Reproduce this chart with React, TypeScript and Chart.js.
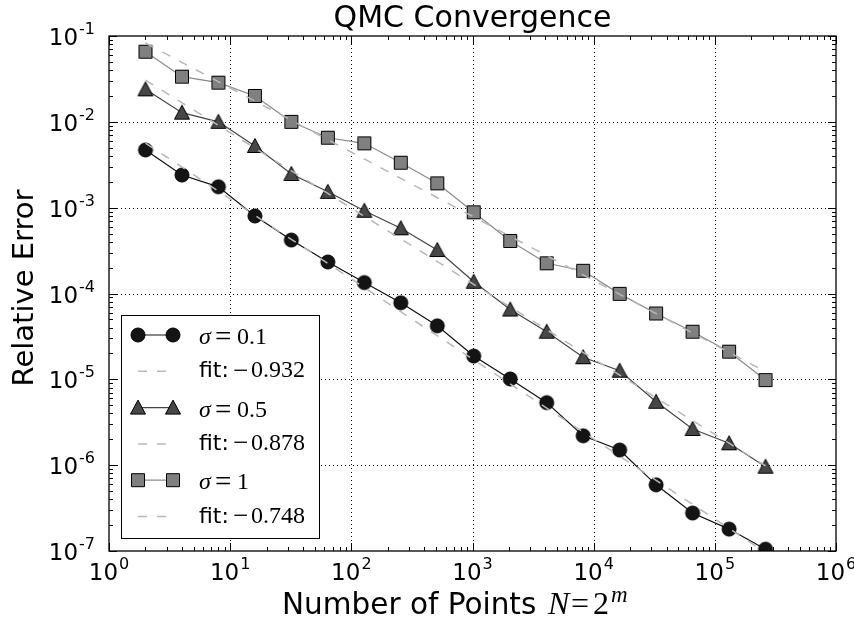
import React, { useEffect, useRef } from "react";
import { Chart, registerables } from "chart.js";

Chart.register(...registerables);

// ---- data ----
const pointsN = [2, 4, 8, 16, 32, 64, 128, 256, 512, 1024, 2048, 4096, 8192, 16384, 32768, 65536, 131072, 262144];
const errSigma01 = [4.7e-3, 2.4e-3, 1.75e-3, 8.0e-4, 4.2e-4, 2.33e-4, 1.34e-4, 7.8e-5, 4.2e-5, 1.87e-5, 1.01e-5, 5.35e-6, 2.2e-6, 1.5e-6, 5.9e-7, 2.77e-7, 1.8e-7, 1.05e-7];
const errSigma05 = [2.39e-2, 1.28e-2, 1.0e-2, 5.23e-3, 2.47e-3, 1.53e-3, 9.2e-4, 5.75e-4, 3.21e-4, 1.37e-4, 6.5e-5, 3.59e-5, 1.81e-5, 1.26e-5, 5.48e-6, 2.64e-6, 1.8e-6, 9.6e-7];
const errSigma1 = [6.56e-2, 3.36e-2, 2.86e-2, 2.0e-2, 1.0e-2, 6.53e-3, 5.62e-3, 3.34e-3, 1.92e-3, 8.83e-4, 4.09e-4, 2.25e-4, 1.84e-4, 9.9e-5, 5.85e-5, 3.59e-5, 2.1e-5, 9.8e-6];
const fitN = [2, 262144];
const fitSigma01 = [5.66e-3, 9.6e-8];
const fitSigma05 = [3.07e-2, 9.8e-7];
const fitSigma1 = [8.28e-2, 1.23e-5];
const xTickExponents = ["0", "1", "2", "3", "4", "5", "6"];
const yTickExponents = ["-1", "-2", "-3", "-4", "-5", "-6", "-7"];
const sigmaLabels = ["0.1", "0.5", "1"];
const fitSlopes = ["0.932", "0.878", "0.748"];
const chartTitle = "QMC Convergence";
const xAxisTitle = "Number of Points";
const yAxisTitle = "Relative Error";

const SANS = '"DejaVu Sans", sans-serif';
const SERIF = '"Liberation Serif", "DejaVu Serif", serif';

const markerKinds = ["circle", "triangle", "square"];
const lineColors = ["#111111", "#454545", "#8a8a8a"];
const fitColor = "#b8b8b8";

function drawMarker(g: CanvasRenderingContext2D, kind: string, x: number, y: number) {
  g.save();
  g.lineWidth = 1;
  g.strokeStyle = "#000";
  g.setLineDash([]);
  g.beginPath();
  if (kind === "circle") {
    g.arc(x, y, 7, 0, Math.PI * 2);
    g.fillStyle = "#141414";
  } else if (kind === "triangle") {
    g.moveTo(x, y - 7.5);
    g.lineTo(x + 7.5, y + 6.5);
    g.lineTo(x - 7.5, y + 6.5);
    g.closePath();
    g.fillStyle = "#474747";
  } else {
    g.rect(x - 6.5, y - 6.5, 13, 13);
    g.fillStyle = "#808080";
  }
  g.fill();
  g.stroke();
  g.restore();
}

function makeMarker(kind: string) {
  const c = document.createElement("canvas");
  c.width = 20;
  c.height = 20;
  const g = c.getContext("2d")!;
  drawMarker(g, kind, 10, 10);
  return c;
}

function drawPow(ctx: CanvasRenderingContext2D, base: string, sup: string, x: number, y: number, align: string) {
  const baseFont = `23px ${SANS}`;
  const supFont = `16px ${SANS}`;
  ctx.font = baseFont;
  const bw = ctx.measureText(base).width;
  ctx.font = supFont;
  const sw = ctx.measureText(sup).width;
  const total = bw + 1 + sw;
  const x0 = align === "center" ? x - total / 2 : x - total;
  ctx.textAlign = "left";
  ctx.textBaseline = "alphabetic";
  ctx.fillStyle = "#000";
  ctx.font = baseFont;
  ctx.fillText(base, x0, y);
  ctx.font = supFont;
  ctx.fillText(sup, x0 + bw + 1, y - 11);
}

const decorPlugin = {
  id: "decor",
  beforeDatasetsDraw(chart: any) {
    const ctx = chart.ctx as CanvasRenderingContext2D;
    const { left, right, top, bottom } = chart.chartArea;
    const xs = chart.scales.x;
    const ys = chart.scales.y;
    ctx.save();
    ctx.strokeStyle = "#000";
    ctx.lineWidth = 1;
    ctx.setLineDash([1, 3]);
    xTickExponents.forEach((e) => {
      const px = Math.round(xs.getPixelForValue(Math.pow(10, Number(e)))) + 0.5;
      if (px <= left + 1 || px >= right - 1) return;
      ctx.beginPath();
      ctx.moveTo(px, top);
      ctx.lineTo(px, bottom);
      ctx.stroke();
    });
    yTickExponents.forEach((e) => {
      const py = Math.round(ys.getPixelForValue(Math.pow(10, Number(e)))) + 0.5;
      if (py <= top + 1 || py >= bottom - 1) return;
      ctx.beginPath();
      ctx.moveTo(left, py);
      ctx.lineTo(right, py);
      ctx.stroke();
    });
    ctx.restore();
  },
  afterDatasetsDraw(chart: any) {
    const ctx = chart.ctx as CanvasRenderingContext2D;
    const { left, right, top, bottom } = chart.chartArea;
    const xs = chart.scales.x;
    const ys = chart.scales.y;
    ctx.save();
    ctx.setLineDash([]);
    ctx.strokeStyle = "#000";
    ctx.lineWidth = 1;
    // ticks (inward, all four sides)
    const xe = xTickExponents.map(Number);
    for (let k = xe[0]; k <= xe[xe.length - 1]; k++) {
      for (let j = 1; j <= 9; j++) {
        if (k === xe[xe.length - 1] && j > 1) break;
        const v = j * Math.pow(10, k);
        const px = Math.round(xs.getPixelForValue(v)) + 0.5;
        const len = j === 1 ? 8 : 4;
        ctx.beginPath();
        ctx.moveTo(px, bottom);
        ctx.lineTo(px, bottom - len);
        ctx.moveTo(px, top);
        ctx.lineTo(px, top + len);
        ctx.stroke();
      }
    }
    const ye = yTickExponents.map(Number);
    const yMin = Math.min(...ye);
    const yMax = Math.max(...ye);
    for (let k = yMin; k <= yMax; k++) {
      for (let j = 1; j <= 9; j++) {
        if (k === yMax && j > 1) break;
        const v = j * Math.pow(10, k);
        const py = Math.round(ys.getPixelForValue(v)) + 0.5;
        const len = j === 1 ? 8 : 4;
        ctx.beginPath();
        ctx.moveTo(left, py);
        ctx.lineTo(left + len, py);
        ctx.moveTo(right, py);
        ctx.lineTo(right - len, py);
        ctx.stroke();
      }
    }
    // frame
    ctx.lineWidth = 1.3;
    ctx.strokeRect(left, top, right - left, bottom - top);

    // legend
    const bx = 121.5, by = 315.5, bw = 198, bh = 223;
    ctx.fillStyle = "#fff";
    ctx.fillRect(bx, by, bw, bh);
    ctx.lineWidth = 1;
    ctx.strokeStyle = "#000";
    ctx.strokeRect(bx, by, bw, bh);
    const x1 = 138, x2 = 173, tx = 199;
    for (let i = 0; i < 3; i++) {
      const ry = 335 + i * 72.6;
      const fy = ry + 36.3;
      ctx.strokeStyle = lineColors[i];
      ctx.lineWidth = 1.2;
      ctx.beginPath();
      ctx.moveTo(x1, ry);
      ctx.lineTo(x2, ry);
      ctx.stroke();
      drawMarker(ctx, markerKinds[i], x1, ry);
      drawMarker(ctx, markerKinds[i], x2, ry);
      ctx.fillStyle = "#000";
      ctx.textAlign = "left";
      ctx.textBaseline = "alphabetic";
      ctx.font = `italic 24px ${SERIF}`;
      ctx.fillText("σ", tx, ry + 9);
      ctx.font = `29px ${SERIF}`;
      ctx.fillText("=", tx + 16, ry + 11);
      ctx.font = `24px ${SERIF}`;
      ctx.fillText(sigmaLabels[i], tx + 38, ry + 9);
      // fit row
      ctx.strokeStyle = fitColor;
      ctx.lineWidth = 1.5;
      ctx.setLineDash([9, 10]);
      ctx.beginPath();
      ctx.moveTo(x1, fy);
      ctx.lineTo(x2, fy);
      ctx.stroke();
      ctx.setLineDash([]);
      ctx.fillStyle = "#000";
      ctx.font = `22px ${SANS}`;
      ctx.fillText("fit:", tx, fy + 6);
      ctx.font = `27px ${SERIF}`;
      ctx.fillText("\u2212", tx + 34, fy + 7.5);
      ctx.font = `24px ${SERIF}`;
      ctx.fillText(fitSlopes[i], tx + 52, fy + 6);
    }

    // tick labels
    xTickExponents.forEach((e) => {
      const px = xs.getPixelForValue(Math.pow(10, Number(e)));
      drawPow(ctx, "10", e, px, 580, "center");
    });
    yTickExponents.forEach((e) => {
      const py = ys.getPixelForValue(Math.pow(10, Number(e)));
      drawPow(ctx, "10", e, 95, py + 9, "right");
    });

    // title
    ctx.fillStyle = "#000";
    ctx.textAlign = "center";
    ctx.font = `30px ${SANS}`;
    ctx.fillText(chartTitle, (left + right) / 2, 27);

    // x axis title
    ctx.textAlign = "left";
    const x0 = 282;
    const base = 614;
    ctx.font = `29.5px ${SANS}`;
    ctx.fillText(xAxisTitle, x0, base);
    ctx.font = `italic 32px ${SERIF}`;
    ctx.fillText("N", x0 + 266, base);
    ctx.font = `32px ${SERIF}`;
    ctx.fillText("=", x0 + 289, base);
    ctx.fillText("2", x0 + 311, base);
    ctx.font = `italic 23px ${SERIF}`;
    ctx.fillText("m", x0 + 329, base - 12);

    // y axis title
    ctx.save();
    ctx.translate(33, 288);
    ctx.rotate(-Math.PI / 2);
    ctx.textAlign = "center";
    ctx.font = `29px ${SANS}`;
    ctx.fillText(yAxisTitle, 0, 0);
    ctx.restore();

    ctx.restore();
  },
};

export default function App() {
  const ref = useRef<HTMLCanvasElement | null>(null);
  useEffect(() => {
    if (!ref.current) return;
    const markers = markerKinds.map(makeMarker);
    const mk = (xsArr: number[], ysArr: number[]) => xsArr.map((x, i) => ({ x, y: ysArr[i] }));
    const series = [errSigma01, errSigma05, errSigma1];
    const fits = [fitSigma01, fitSigma05, fitSigma1];
    const datasets: any[] = [];
    for (let i = 0; i < 3; i++) {
      datasets.push({
        label: `σ=${sigmaLabels[i]}`,
        data: mk(pointsN, series[i]),
        borderColor: lineColors[i],
        backgroundColor: lineColors[i],
        borderWidth: 1.2,
        pointStyle: markers[i],
        pointRadius: 7,
        pointHoverRadius: 7,
        tension: 0,
        order: 6 - 2 * i,
      });
      datasets.push({
        label: `fit:−${fitSlopes[i]}`,
        data: mk(fitN, fits[i]),
        borderColor: fitColor,
        borderWidth: 1.5,
        borderDash: [9, 10],
        pointRadius: 0,
        tension: 0,
        order: 5 - 2 * i,
      });
    }
    const chart = new Chart(ref.current, {
      type: "line",
      data: { datasets },
      options: {
        animation: false,
        responsive: false,
        parsing: true,
        layout: { padding: { left: 109, right: 18, top: 36, bottom: 72 } },
        scales: {
          x: { type: "logarithmic", min: 1, max: 1e6, display: false },
          y: { type: "logarithmic", min: 1e-7, max: 1e-1, display: false },
        },
        plugins: { legend: { display: false }, tooltip: { enabled: false }, title: { display: false } },
        events: [],
      },
      plugins: [decorPlugin],
    } as any);
    return () => chart.destroy();
  }, []);
  return (
    <div style={{ position: "fixed", left: 0, top: 0, width: 854, height: 623, background: "#fff" }}>
      <canvas ref={ref} width={854} height={623} style={{ display: "block" }} />
    </div>
  );
}
